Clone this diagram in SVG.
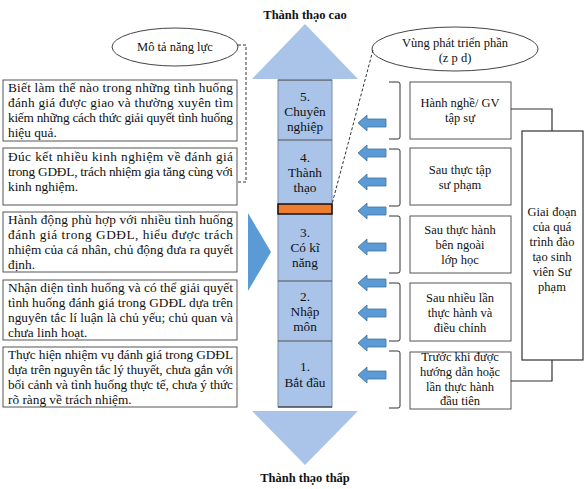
<svg xmlns="http://www.w3.org/2000/svg" width="585" height="489" viewBox="0 0 585 489">
<defs>
<style>
text{font-family:"Liberation Serif","Times New Roman",serif;font-size:12.5px;fill:#111}
.c{text-anchor:middle}
.b{font-weight:bold}
.l{font-size:13.3px}
.box{fill:#fff;stroke:#555;stroke-width:1}
.col{fill:#A9C4E8;stroke:#7A8BA5;stroke-width:1}
.div{stroke:#555;stroke-width:1}
.arr{fill:#5B9BD5;stroke:#41719C;stroke-width:0.8}
.brk{fill:none;stroke:#333;stroke-width:1}
.dash{fill:none;stroke:#333;stroke-width:1;stroke-dasharray:3,2}
.ell{fill:#fff;stroke:#444;stroke-width:1}
.conn{fill:none;stroke:#333;stroke-width:1.2}
</style>
</defs>
<rect width="585" height="489" fill="#fff"/>

<!-- titles -->
<text class="c b" x="305" y="19">Thành thạo cao</text>
<text class="c b" x="305" y="482">Thành thạo thấp</text>

<!-- central column -->
<g id="column">
<polygon points="252,79 305,24 358,79" fill="#A9C4E8"/>
<polygon points="252,411 358,411 305,465" fill="#A9C4E8"/>
<rect class="col" x="278" y="80" width="54" height="327"/>
<line class="div" x1="278" y1="80" x2="332" y2="80"/>
<line class="div" x1="278" y1="140" x2="332" y2="140"/>
<line class="div" x1="278" y1="281" x2="332" y2="281"/>
<line class="div" x1="278" y1="341" x2="332" y2="341"/>
<line x1="278" y1="407" x2="332" y2="407" stroke="#222" stroke-width="1.2"/>
<rect x="278" y="204" width="54" height="10" fill="#ED7D31" stroke="#111" stroke-width="1.5"/>
</g>
<g id="level5"><text class="c l" x="305" y="101">5.</text><text class="c l" x="305" y="116">Chuyên</text><text class="c l" x="305" y="131">nghiệp</text></g>
<g id="level4"><text class="c l" x="305" y="162">4.</text><text class="c l" x="305" y="177">Thành</text><text class="c l" x="305" y="192">thạo</text></g>
<g id="level3"><text class="c l" x="305" y="237">3.</text><text class="c l" x="305" y="252">Có kĩ</text><text class="c l" x="305" y="267">năng</text></g>
<g id="level2"><text class="c l" x="305" y="301">2.</text><text class="c l" x="305" y="316">Nhập</text><text class="c l" x="305" y="331">môn</text></g>
<g id="level1"><text class="c l" x="305" y="371">1.</text><text class="c l" x="305" y="387">Bắt đầu</text></g>

<!-- left ellipse -->
<g id="mota">
<ellipse class="ell" cx="175" cy="47" rx="63" ry="19"/>
<text class="c" x="175" y="51">Mô tả năng lực</text>
</g>

<!-- left description boxes -->
<g id="desc5">
<rect class="box" x="3" y="80" width="234" height="61"/>
<text class="l" x="8" y="92" textLength="225" lengthAdjust="spacing">Biết làm thế nào trong những tình huống</text>
<text class="l" x="8" y="107" textLength="225" lengthAdjust="spacing">đánh giá được giao và thường xuyên tìm</text>
<text class="l" x="8" y="122" textLength="225" lengthAdjust="spacing">kiếm những cách thức giải quyết tình huống</text>
<text class="l" x="8" y="137">hiệu quả.</text>
</g>
<g id="desc4">
<rect class="box" x="3" y="148" width="234" height="57"/>
<text class="l" x="8" y="161" textLength="225" lengthAdjust="spacing">Đúc kết nhiều kinh nghiệm về đánh giá</text>
<text class="l" x="8" y="176" textLength="225" lengthAdjust="spacing">trong GDĐL, trách nhiệm gia tăng cùng với</text>
<text class="l" x="8" y="191">kinh nghiệm.</text>
</g>
<g id="desc3">
<rect class="box" x="3" y="212" width="234" height="60"/>
<text class="l" x="8" y="224" textLength="225" lengthAdjust="spacing">Hành động phù hợp với nhiều tình huống</text>
<text class="l" x="8" y="239" textLength="225" lengthAdjust="spacing">đánh giá trong GDĐL, hiểu được trách</text>
<text class="l" x="8" y="254" textLength="225" lengthAdjust="spacing">nhiệm của cá nhân, chủ động đưa ra quyết</text>
<text class="l" x="8" y="269">định.</text>
</g>
<g id="desc2">
<rect class="box" x="3" y="280" width="234" height="60"/>
<text class="l" x="8" y="292" textLength="225" lengthAdjust="spacing">Nhận diện tình huống và có thể giải quyết</text>
<text class="l" x="8" y="307" textLength="225" lengthAdjust="spacing">tình huống đánh giá trong GDĐL dựa trên</text>
<text class="l" x="8" y="322" textLength="225" lengthAdjust="spacing">nguyên tắc lí luận là chủ yếu; chủ quan và</text>
<text class="l" x="8" y="337">chưa linh hoạt.</text>
</g>
<g id="desc1">
<rect class="box" x="3" y="347" width="234" height="60"/>
<text class="l" x="8" y="359" textLength="225" lengthAdjust="spacing">Thực hiện nhiệm vụ đánh giá trong GDĐL</text>
<text class="l" x="8" y="374" textLength="225" lengthAdjust="spacing">dựa trên nguyên tắc lý thuyết, chưa gắn với</text>
<text class="l" x="8" y="389" textLength="225" lengthAdjust="spacing">bối cảnh và tình huống thực tế, chưa ý thức</text>
<text class="l" x="8" y="404">rõ ràng về trách nhiệm.</text>
</g>

<!-- left pointing triangle -->
<g id="pointer"><polygon points="248,213 271,252 248,291" fill="#5B9BD5"/></g>

<!-- right ellipse -->
<g id="zpd">
<ellipse class="ell" cx="455" cy="49" rx="83" ry="22"/>
<text class="c" x="455" y="47">Vùng phát triển phần</text>
<text class="c" x="455" y="62">(z p d)</text>
</g>

<!-- right stage boxes -->
<g id="stageA"><rect class="box" x="410" y="82" width="101" height="57"/>
<text class="c" x="460" y="107">Hành nghề/ GV</text><text class="c" x="460" y="122">tập sự</text></g>
<g id="stageB"><rect class="box" x="410" y="148" width="101" height="57"/>
<text class="c" x="460" y="174">Sau thực tập</text><text class="c" x="460" y="189">sư phạm</text></g>
<g id="stageC"><rect class="box" x="410" y="216" width="101" height="57"/>
<text class="c" x="460" y="234">Sau thực hành</text><text class="c" x="460" y="249">bên ngoài</text><text class="c" x="460" y="264">lớp học</text></g>
<g id="stageD"><rect class="box" x="410" y="283" width="101" height="58"/>
<text class="c" x="460" y="302">Sau nhiều lần</text><text class="c" x="460" y="317">thực hành và</text><text class="c" x="460" y="332">điều chỉnh</text></g>
<g id="stageE"><rect class="box" x="410" y="352" width="101" height="57"/>
<text class="c" x="460" y="361">Trước khi được</text><text class="c" x="460" y="376">hướng dẫn hoặc</text><text class="c" x="460" y="391">lần thực hành</text><text class="c" x="460" y="405">đầu tiên</text></g>

<g id="period"><rect x="522" y="131" width="61" height="229" fill="#fff" stroke="#333" stroke-width="1.2"/>
<text class="c" x="552" y="216">Giai đoạn</text><text class="c" x="552" y="231">của quá</text><text class="c" x="552" y="246">trình đào</text><text class="c" x="552" y="261">tạo sinh</text><text class="c" x="552" y="276">viên Sư</text><text class="c" x="552" y="291">phạm</text></g>

<!-- connectors -->
<g id="connectors">
<path class="dash" d="M238,45 H246 V182 H238"/>
<path class="dash" d="M373,50 L332,204"/>
<path class="conn" d="M511,109 H552 V131"/>
<path class="conn" d="M511,381 H552 V360"/>
<path class="brk" d="M389,82 H398 Q400,82 400,84 V137 Q400,139 398,139 H389"/>
<path class="brk" d="M389,149 H398 Q400,149 400,151 V204 Q400,206 398,206 H389"/>
<path class="brk" d="M389,216 H398 Q400,216 400,218 V271 Q400,273 398,273 H389"/>
<path class="brk" d="M389,283 H398 Q400,283 400,285 V339 Q400,341 398,341 H389"/>
<path class="brk" d="M389,351 H398 Q400,351 400,353 V406 Q400,408 398,408 H389"/>
<path class="arr" d="M358,123 L367,115 L367,119 L386,119 L386,127 L367,127 L367,131 Z"/>
<path class="arr" d="M358,153 L367,145 L367,149 L386,149 L386,157 L367,157 L367,161 Z"/>
<path class="arr" d="M358,182 L367,174 L367,178 L386,178 L386,186 L367,186 L367,190 Z"/>
<path class="arr" d="M358,211 L367,203 L367,207 L386,207 L386,215 L367,215 L367,219 Z"/>
<path class="arr" d="M358,247 L367,239 L367,243 L386,243 L386,251 L367,251 L367,255 Z"/>
<path class="arr" d="M358,283 L367,275 L367,279 L386,279 L386,287 L367,287 L367,291 Z"/>
<path class="arr" d="M358,313 L367,305 L367,309 L386,309 L386,317 L367,317 L367,321 Z"/>
<path class="arr" d="M358,343 L367,335 L367,339 L386,339 L386,347 L367,347 L367,351 Z"/>
<path class="arr" d="M358,375 L367,367 L367,371 L386,371 L386,379 L367,379 L367,383 Z"/>
</g>
</svg>
